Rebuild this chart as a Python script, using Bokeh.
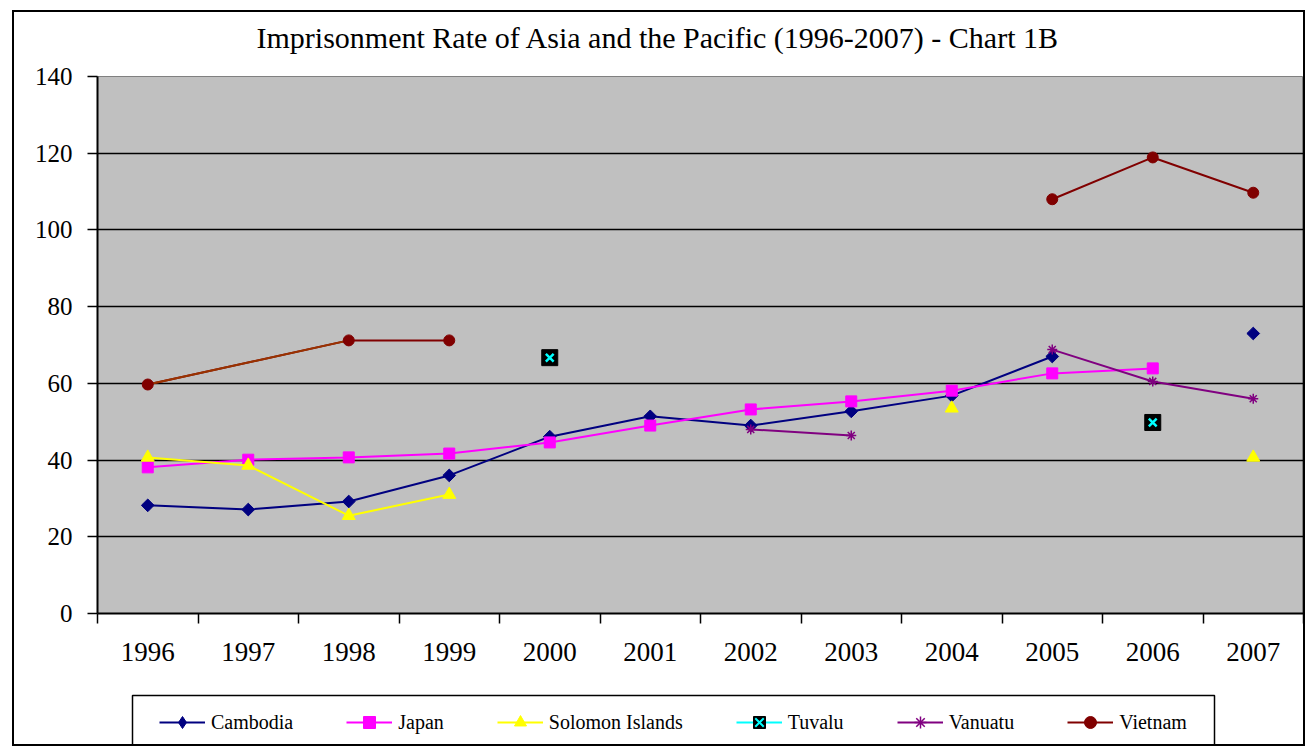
import math
from bokeh.plotting import figure
from bokeh.layouts import column
from bokeh.models import FixedTicker, Legend, LegendItem, BoxAnnotation, Label, Range1d
from bokeh.embed import file_html
from bokeh.resources import INLINE

nan = float("nan")

years = [1996, 1997, 1998, 1999, 2000, 2001, 2002, 2003, 2004, 2005, 2006, 2007]
year_labels = [str(y) for y in years]
y_ticks = [0, 20, 40, 60, 80, 100, 120, 140]

cambodia = [28.2, 27.1, 29.2, 36.0, 46.1, 51.4, 49.0, 52.7, 56.8, 67.0, nan, 73.0]
japan = [38.1, 40.1, 40.7, 41.7, 44.6, 49.0, 53.2, 55.3, 58.1, 62.6, 63.9, nan]
solomon = [40.7, 38.6, 25.5, 31.0, nan, nan, nan, nan, 53.5, nan, nan, 40.7]
tuvalu = [nan, nan, nan, nan, 66.7, nan, nan, nan, nan, nan, 49.8, nan]
vanuatu = [nan, nan, nan, nan, nan, nan, 48.0, 46.4, nan, 68.8, 60.5, 56.0]
vietnam = [59.7, nan, 71.2, 71.2, nan, nan, nan, nan, nan, 108.0, 118.9, 109.7]

series_names = ["Cambodia", "Japan", "Solomon Islands", "Tuvalu", "Vanuatu", "Vietnam"]
title_text = "Imprisonment Rate of Asia and the Pacific (1996-2007) - Chart 1B"

FONT = "Liberation Serif"
W = 1289


def strip(height):
    f = figure(width=W, height=height, output_backend="svg", toolbar_location=None,
               min_border_left=0, min_border_right=0, min_border_top=0, min_border_bottom=0,
               background_fill_color="white", border_fill_color="white", outline_line_color=None)
    f.xaxis.visible = False
    f.yaxis.visible = False
    f.xgrid.visible = False
    f.ygrid.visible = False
    return f


# ---- title strip ----
t = strip(44)
t.add_layout(Label(x=159, y=19, x_units="screen", y_units="screen", text=title_text,
                   text_font=FONT, text_font_size="30px", text_color="black",
                   text_align="left", text_baseline="alphabetic"))

# ---- main chart ----
p = figure(width=W, height=636, x_range=(1995.5, 2007.5), y_range=(0, 140),
           output_backend="svg", toolbar_location=None,
           min_border_left=83, min_border_right=0, min_border_top=20, min_border_bottom=79,
           background_fill_color="#C0C0C0", border_fill_color="white",
           outline_line_color="#808080", outline_line_width=1)

xt = FixedTicker(ticks=years, minor_ticks=[y - 0.5 for y in years] + [years[-1] + 0.5])
p.xaxis.ticker = xt
p.xaxis.major_label_overrides = {y: s for y, s in zip(years, year_labels)}
p.xaxis.major_tick_line_color = None
p.xaxis.major_tick_out = 0
p.xaxis.major_tick_in = 0
p.xaxis.minor_tick_line_color = "black"
p.xaxis.minor_tick_line_width = 1.5
p.xaxis.minor_tick_out = 10
p.xaxis.minor_tick_in = 0
p.xaxis.major_label_standoff = 19
p.xaxis.axis_line_color = "black"
p.xaxis.axis_line_width = 2
p.xaxis.major_label_text_font = FONT
p.xaxis.major_label_text_font_size = "27px"
p.xaxis.major_label_text_color = "black"

p.yaxis.ticker = FixedTicker(ticks=y_ticks, minor_ticks=[])
p.yaxis.major_tick_out = 10
p.yaxis.major_tick_in = 0
p.yaxis.major_tick_line_width = 1.5
p.yaxis.major_tick_line_color = "black"
p.yaxis.minor_tick_line_color = None
p.yaxis.major_label_standoff = 15
p.yaxis.axis_line_color = "black"
p.yaxis.axis_line_width = 2
p.yaxis.major_label_text_font = FONT
p.yaxis.major_label_text_font_size = "25px"
p.yaxis.major_label_text_color = "black"

p.xgrid.grid_line_color = None
p.ygrid.ticker = FixedTicker(ticks=y_ticks[1:], minor_ticks=[])
p.ygrid.grid_line_color = "black"
p.ygrid.grid_line_width = 1.5

COL = {"Cambodia": "#000080", "Japan": "#FF00FF", "Solomon Islands": "#FFFF00",
       "Tuvalu": "#00FFFF", "Vanuatu": "#800080", "Vietnam": "#800000"}

c = COL["Cambodia"]
p.line(years, cambodia, line_color=c, line_width=2)
p.scatter(years, cambodia, marker="square", angle=math.pi / 4, size=9,
          fill_color=c, line_color=c)

c = COL["Japan"]
p.line(years, japan, line_color=c, line_width=2)
p.scatter(years, japan, marker="square", size=11, fill_color=c, line_color=c)

c = COL["Solomon Islands"]
p.line(years, solomon, line_color=c, line_width=2)
p.scatter(years, solomon, marker="triangle", size=13, fill_color=c, line_color=c)

c = COL["Tuvalu"]
p.scatter(years, tuvalu, marker="square", size=16, fill_color="black", line_color="black")
p.scatter(years, tuvalu, marker="x", size=11, line_color=c, line_width=2.5)

c = COL["Vanuatu"]
p.line(years, vanuatu, line_color=c, line_width=2)
p.scatter(years, vanuatu, marker="asterisk", size=10, line_color=c, line_width=1.5)

# Vietnam: 1997 missing, but the line bridges 1996 to 1998
c = COL["Vietnam"]
vx = [x for x in years if x != 1997]
vy = [v for x, v in zip(years, vietnam) if x != 1997]
p.line(vx, vy, line_color=c, line_width=2)
p.segment(x0=[years[0]], y0=[vietnam[0]], x1=[years[2]], y1=[vietnam[2]],
          line_color="#993300", line_width=2)
p.scatter(years, vietnam, marker="circle", size=11, fill_color=c, line_color=c)

# ---- legend strip ----
q = strip(52)
q.x_range = Range1d(97, 1303)
q.y_range = Range1d(0, 52)

q.add_layout(BoxAnnotation(left=132, right=1214, bottom=-3, top=49,
                           fill_color=None, fill_alpha=0,
                           line_color="black", line_alpha=1, line_width=1.5))

markers = {"Cambodia": [dict(marker="diamond", fill_color=COL["Cambodia"], line_color=COL["Cambodia"])],
           "Japan": [dict(marker="square", fill_color=COL["Japan"], line_color=COL["Japan"])],
           "Solomon Islands": [dict(marker="triangle", fill_color=COL["Solomon Islands"],
                                    line_color=COL["Solomon Islands"])],
           "Tuvalu": [dict(marker="square", fill_color="black", line_color="black"),
                      dict(marker="x", line_color=COL["Tuvalu"], line_width=2)],
           "Vanuatu": [dict(marker="asterisk", line_color=COL["Vanuatu"], line_width=1.5)],
           "Vietnam": [dict(marker="circle", fill_color=COL["Vietnam"], line_color=COL["Vietnam"])]}

OFF = [-10000]  # legend swatch renderers: one point kept far outside the visible range
items = []
for name in series_names:
    rs = [q.line(x=OFF, y=OFF, line_color=COL[name], line_width=2)]
    for kw in markers[name]:
        rs.append(q.scatter(x=OFF, y=OFF, **kw))
    items.append(LegendItem(label=name, renderers=rs))

legend = Legend(items=items, orientation="horizontal", location=(62, 7),
                border_line_color=None, background_fill_alpha=0,
                label_text_font=FONT, label_text_font_size="20px", label_text_color="black",
                glyph_width=46, glyph_height=30, label_standoff=6, spacing=53,
                padding=8, margin=0)
q.add_layout(legend)

layout = column(t, p, q, spacing=0,
                styles={"border": "2px solid black", "margin-left": "12px", "margin-top": "10px",
                        "margin-bottom": "-20px", "margin-right": "-20px"})

open("out.html", "w").write(file_html(layout, INLINE))
